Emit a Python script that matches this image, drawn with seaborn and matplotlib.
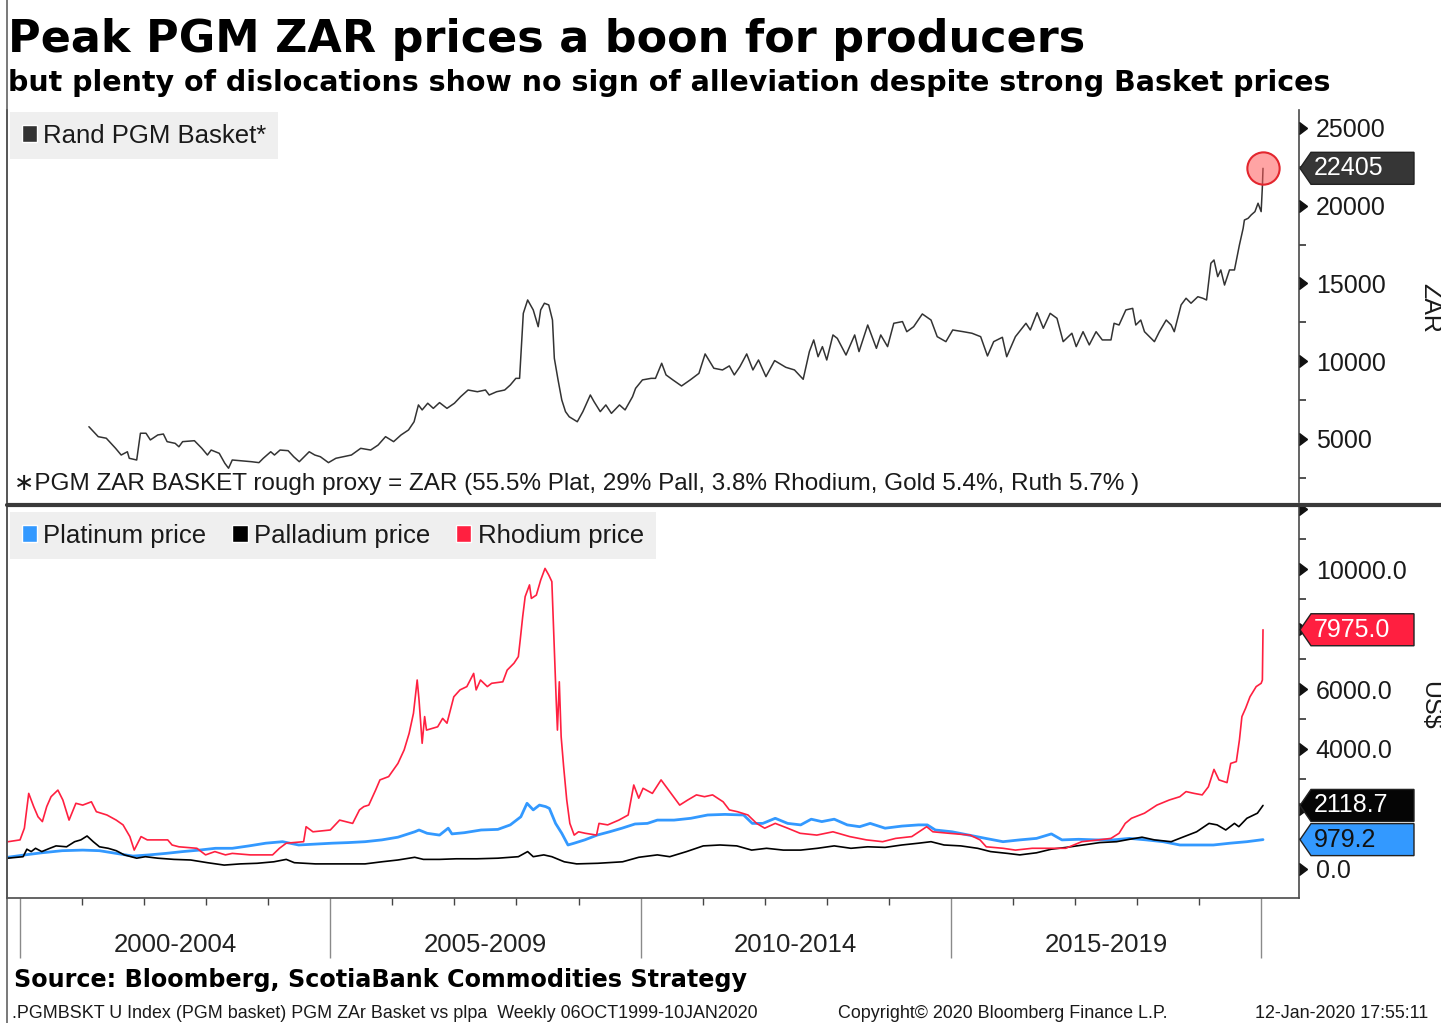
"""Rand PGM basket vs platinum / palladium / rhodium prices (Bloomberg style)."""

import pandas as pd
import matplotlib
matplotlib.use("Agg")
import matplotlib.pyplot as plt
import matplotlib.transforms as mtransforms
from matplotlib.lines import Line2D
from matplotlib.patches import Patch
from matplotlib.path import Path
import seaborn as sns

# ---- data (decimal years) ----
basket_year = [2001.11, 2001.26, 2001.39, 2001.54, 2001.63, 2001.73, 2001.76, 2001.88, 2001.94, 2002.03,
               2002.10, 2002.22, 2002.31, 2002.37, 2002.50, 2002.56, 2002.62, 2002.81, 2002.93, 2003.02,
               2003.08, 2003.21, 2003.30, 2003.36, 2003.42, 2003.73, 2003.85, 2003.92, 2004.04, 2004.10,
               2004.19, 2004.32, 2004.41, 2004.50, 2004.66, 2004.75, 2004.84, 2004.97, 2005.09, 2005.34,
               2005.49, 2005.65, 2005.77, 2005.89, 2006.02, 2006.14, 2006.26, 2006.35, 2006.42, 2006.48,
               2006.57, 2006.66, 2006.76, 2006.88, 2007.00, 2007.10, 2007.22, 2007.37, 2007.50, 2007.56,
               2007.68, 2007.81, 2007.90, 2007.99, 2008.05, 2008.11, 2008.18, 2008.27, 2008.35, 2008.39,
               2008.45, 2008.52, 2008.58, 2008.61, 2008.67, 2008.73, 2008.79, 2008.85, 2008.98, 2009.07,
               2009.19, 2009.25, 2009.35, 2009.44, 2009.53, 2009.66, 2009.75, 2009.87, 2009.92, 2010.03,
               2010.17, 2010.24, 2010.34, 2010.41, 2010.52, 2010.66, 2010.80, 2010.94, 2011.04, 2011.18,
               2011.32, 2011.43, 2011.51, 2011.60, 2011.71, 2011.81, 2011.90, 2012.02, 2012.16, 2012.34,
               2012.48, 2012.62, 2012.72, 2012.79, 2012.86, 2012.93, 2013.00, 2013.10, 2013.17, 2013.31,
               2013.45, 2013.52, 2013.66, 2013.80, 2013.87, 2013.98, 2014.08, 2014.22, 2014.29, 2014.40,
               2014.54, 2014.68, 2014.78, 2014.92, 2015.03, 2015.20, 2015.34, 2015.48, 2015.59, 2015.69,
               2015.83, 2015.90, 2016.04, 2016.21, 2016.28, 2016.39, 2016.49, 2016.60, 2016.71, 2016.81,
               2016.95, 2017.02, 2017.13, 2017.23, 2017.34, 2017.44, 2017.58, 2017.63, 2017.71, 2017.82,
               2017.93, 2017.98, 2018.06, 2018.12, 2018.28, 2018.36, 2018.47, 2018.55, 2018.60, 2018.71,
               2018.79, 2018.87, 2018.98, 2019.06, 2019.12, 2019.19, 2019.24, 2019.30, 2019.35, 2019.41,
               2019.49, 2019.57, 2019.65, 2019.71, 2019.73, 2019.79, 2019.84, 2019.90, 2019.95, 2020.00,
               2020.02, 2020.03]
basket_zar = [5790, 5150, 5050, 4400, 3970, 4180, 3760, 3650, 5370, 5370,
              4940, 5260, 5320, 4830, 4720, 4500, 4830, 4890, 4400, 3970,
              4290, 4080, 3440, 3120, 3650, 3540, 3480, 3760, 4180, 3970,
              4290, 4250, 3860, 3540, 4180, 3970, 3860, 3480, 3760, 3970,
              4400, 4290, 4610, 5150, 4830, 5260, 5580, 6110, 7190, 6870,
              7300, 6970, 7340, 6970, 7300, 7720, 8150, 8040, 8150, 7830,
              8040, 8150, 8470, 8900, 8900, 13080, 13940, 13300, 12220, 13300,
              13730, 13620, 12650, 10190, 8800, 7510, 6760, 6430, 6110, 6760,
              7830, 7400, 6760, 7190, 6650, 7190, 6870, 7720, 8260, 8800,
              8900, 8900, 9870, 9120, 8800, 8410, 8800, 9220, 10470, 9550,
              9440, 9700, 9120, 9650, 10470, 9440, 10080, 9010, 10040, 9610,
              9440, 8840, 10620, 11370, 10290, 10940, 10080, 11690, 11470, 10400,
              11690, 10620, 12330, 10830, 11690, 10940, 12440, 12550, 11900, 12220,
              13040, 12650, 11580, 11260, 12010, 11900, 11800, 11580, 10340, 11260,
              11540, 10290, 11580, 12440, 12010, 13120, 12120, 13080, 12760, 11260,
              11800, 10940, 11900, 11050, 11900, 11370, 11370, 12440, 12330, 13300,
              13400, 12330, 12650, 11900, 11260, 11900, 12650, 12330, 11900, 13620,
              14050, 13730, 14150, 14050, 13940, 16300, 16510, 15440, 15870, 14900,
              15870, 15870, 17480, 18550, 19080, 19190, 19410, 19620, 20160, 19620,
              21230, 22405]

pt_year = [1999.80, 2000.08, 2000.35, 2000.68, 2001.01, 2001.28, 2001.55, 2001.82, 2002.08, 2002.35,
           2002.62, 2002.89, 2003.15, 2003.42, 2003.69, 2003.96, 2004.23, 2004.49, 2004.76, 2005.03,
           2005.29, 2005.56, 2005.83, 2006.09, 2006.36, 2006.43, 2006.56, 2006.76, 2006.90, 2006.96,
           2007.16, 2007.43, 2007.70, 2007.90, 2008.07, 2008.17, 2008.27, 2008.37, 2008.47, 2008.53,
           2008.63, 2008.73, 2008.83, 2008.93, 2009.10, 2009.30, 2009.50, 2009.70, 2009.91, 2010.11,
           2010.27, 2010.54, 2010.81, 2011.08, 2011.36, 2011.66, 2011.80, 2011.97, 2012.17, 2012.37,
           2012.58, 2012.75, 2012.92, 2013.12, 2013.33, 2013.53, 2013.70, 2013.94, 2014.21, 2014.48,
           2014.62, 2014.75, 2015.02, 2015.29, 2015.56, 2015.84, 2016.11, 2016.38, 2016.62, 2016.79,
           2017.06, 2017.34, 2017.61, 2017.88, 2018.15, 2018.42, 2018.69, 2018.96, 2019.23, 2019.50,
           2019.77, 2020.03]
pt_usd = [390, 470, 540, 610, 630, 610, 520, 430, 470, 520,
          580, 630, 690, 690, 770, 860, 910, 800, 830, 860,
          880, 910, 970, 1060, 1240, 1300, 1190, 1130, 1360, 1170,
          1210, 1300, 1320, 1470, 1740, 2190, 1970, 2130, 2080, 2020,
          1520, 1190, 800, 860, 970, 1130, 1240, 1360, 1500, 1520,
          1630, 1630, 1690, 1800, 1820, 1800, 1520, 1520, 1690, 1520,
          1470, 1660, 1580, 1660, 1470, 1410, 1520, 1360, 1430, 1470,
          1470, 1300, 1240, 1130, 1020, 910, 970, 1020, 1170, 970,
          990, 970, 970, 1020, 970, 910, 800, 800, 800, 860,
          910, 979.2]

pd_year = [1999.80, 2000.05, 2000.11, 2000.18, 2000.25, 2000.35, 2000.48, 2000.58, 2000.75, 2000.88,
           2000.98, 2001.08, 2001.18, 2001.28, 2001.42, 2001.55, 2001.68, 2001.88, 2002.02, 2002.22,
           2002.48, 2002.75, 2003.02, 2003.29, 2003.55, 2003.82, 2004.09, 2004.29, 2004.42, 2004.76,
           2005.16, 2005.56, 2005.83, 2006.09, 2006.36, 2006.50, 2006.76, 2007.03, 2007.36, 2007.70,
           2008.03, 2008.18, 2008.27, 2008.44, 2008.57, 2008.77, 2008.97, 2009.31, 2009.71, 2009.97,
           2010.27, 2010.47, 2010.74, 2011.01, 2011.28, 2011.55, 2011.79, 2012.03, 2012.30, 2012.58,
           2012.85, 2013.12, 2013.39, 2013.66, 2013.94, 2014.21, 2014.48, 2014.68, 2014.89, 2015.16,
           2015.43, 2015.64, 2015.91, 2016.11, 2016.38, 2016.62, 2016.86, 2017.13, 2017.40, 2017.67,
           2017.88, 2018.08, 2018.28, 2018.55, 2018.76, 2018.96, 2019.16, 2019.29, 2019.43, 2019.57,
           2019.64, 2019.77, 2019.94, 2020.03]
pd_usd = [360, 410, 660, 580, 690, 580, 690, 770, 740, 910,
          970, 1100, 910, 740, 690, 610, 470, 360, 410, 360,
          320, 300, 210, 130, 170, 190, 240, 320, 210, 170,
          170, 170, 240, 300, 390, 320, 320, 340, 340, 360,
          410, 580, 410, 470, 410, 240, 170, 190, 240, 390,
          470, 410, 580, 770, 800, 770, 630, 690, 630, 630,
          690, 770, 690, 740, 720, 800, 860, 910, 800, 770,
          690, 580, 520, 470, 540, 660, 720, 800, 880, 910,
          990, 1060, 970, 910, 1080, 1240, 1520, 1470, 1300, 1520,
          1410, 1690, 1860, 2118.7]

rh_year = [1999.81, 2000.00, 2000.07, 2000.14, 2000.22, 2000.29, 2000.36, 2000.43, 2000.50, 2000.61,
           2000.69, 2000.79, 2000.90, 2001.01, 2001.15, 2001.23, 2001.40, 2001.55, 2001.66, 2001.77,
           2001.84, 2001.95, 2002.05, 2002.27, 2002.38, 2002.45, 2002.56, 2002.85, 2002.99, 2003.14,
           2003.31, 2003.42, 2003.71, 2004.07, 2004.18, 2004.29, 2004.57, 2004.61, 2004.72, 2005.00,
           2005.15, 2005.36, 2005.47, 2005.54, 2005.62, 2005.73, 2005.80, 2005.94, 2006.09, 2006.19,
           2006.27, 2006.34, 2006.40, 2006.43, 2006.48, 2006.52, 2006.55, 2006.73, 2006.81, 2006.88,
           2006.99, 2007.09, 2007.20, 2007.31, 2007.35, 2007.42, 2007.53, 2007.60, 2007.78, 2007.85,
           2007.96, 2008.03, 2008.06, 2008.10, 2008.14, 2008.21, 2008.24, 2008.32, 2008.39, 2008.46,
           2008.52, 2008.57, 2008.60, 2008.64, 2008.66, 2008.69, 2008.72, 2008.76, 2008.81, 2008.86,
           2008.93, 2009.00, 2009.11, 2009.29, 2009.33, 2009.47, 2009.65, 2009.80, 2009.89, 2009.97,
           2010.04, 2010.19, 2010.33, 2010.43, 2010.63, 2010.76, 2010.90, 2011.03, 2011.16, 2011.33,
           2011.43, 2011.56, 2011.73, 2011.87, 2012.00, 2012.17, 2012.37, 2012.57, 2012.84, 2013.10,
           2013.37, 2013.64, 2013.90, 2014.11, 2014.37, 2014.61, 2014.71, 2014.97, 2015.31, 2015.47,
           2015.57, 2015.84, 2016.04, 2016.31, 2016.58, 2016.85, 2017.11, 2017.38, 2017.58, 2017.71,
           2017.81, 2017.91, 2018.12, 2018.32, 2018.52, 2018.69, 2018.79, 2018.92, 2019.05, 2019.15,
           2019.24, 2019.32, 2019.45, 2019.51, 2019.60, 2019.65, 2019.69, 2019.75, 2019.82, 2019.92,
           2020.00, 2020.02, 2020.03]
rh_usd = [910, 970, 1360, 2520, 2080, 1740, 1580, 2080, 2410, 2630,
          2300, 1630, 2190, 2130, 2240, 1910, 1800, 1630, 1470, 1080,
          630, 1080, 970, 970, 970, 800, 740, 690, 470, 580,
          470, 520, 470, 470, 690, 860, 910, 1410, 1240, 1300,
          1630, 1520, 1970, 2080, 2130, 2630, 2970, 3080, 3520, 3970,
          4520, 5190, 6300, 5630, 4190, 5080, 4630, 4740, 5020, 4860,
          5740, 5970, 6080, 6520, 5970, 6300, 6080, 6190, 6240, 6630,
          6860, 7080, 7630, 8410, 9080, 9470, 9020, 9130, 9630, 10020,
          9800, 9580, 7860, 5630, 4630, 6240, 4410, 3410, 2300, 1520,
          1130, 1240, 1190, 1130, 1520, 1470, 1630, 1800, 2800, 2360,
          2690, 2520, 2970, 2690, 2130, 2300, 2470, 2410, 2470, 2240,
          1970, 1910, 1800, 1520, 1360, 1520, 1360, 1190, 1130, 1240,
          1080, 970, 910, 1020, 1080, 1410, 1240, 1190, 1130, 970,
          740, 690, 630, 690, 690, 690, 910, 970, 1020, 1190,
          1520, 1690, 1860, 2130, 2300, 2410, 2580, 2520, 2470, 2740,
          3320, 2970, 2880, 3520, 3580, 4300, 5080, 5360, 5740, 6080,
          6190, 6300, 7975]

zar_ticks = [5000, 10000, 15000, 20000, 25000]
zar_minor = [2500, 7500, 12500, 17500, 22500]
usd_ticks = [0, 2000, 4000, 6000, 8000, 10000, 12000]
usd_shown = [0, 4000, 6000, 10000]
usd_minor = [1000, 3000, 5000, 7000, 9000, 11000]
period_edges = [2000, 2005, 2010, 2015, 2020]
period_labels = ["2000-2004", "2005-2009", "2010-2014", "2015-2019"]
year_ticks = list(range(2000, 2021))

BASKET_C = "#333333"
PT_C = "#3399ff"
PD_C = "#000000"
RH_C = "#ff2040"

basket = pd.DataFrame({"year": basket_year, "value": basket_zar})
metals = pd.concat([
    pd.DataFrame({"year": pt_year, "value": pt_usd, "metal": "Platinum price"}),
    pd.DataFrame({"year": pd_year, "value": pd_usd, "metal": "Palladium price"}),
    pd.DataFrame({"year": rh_year, "value": rh_usd, "metal": "Rhodium price"}),
])

sns.set_style("white")
plt.rcParams["font.family"] = ["Liberation Sans", "DejaVu Sans"]
plt.rcParams["text.color"] = "#1a1a1a"

W, H = 1441, 1023
fig = plt.figure(figsize=(W / 100, H / 100), dpi=100)


def fx(px):
    return px / W


def fy(py):
    return 1 - py / H


ax1 = fig.add_axes([fx(7), fy(502), fx(1299) - fx(7), fy(110) - fy(502)])
ax2 = fig.add_axes([fx(7), fy(898), fx(1299) - fx(7), fy(507) - fy(898)], sharex=ax1)

sns.lineplot(data=basket, x="year", y="value", ax=ax1, color=BASKET_C, linewidth=1.1,
             estimator=None, sort=False, legend=False)
palette = {"Platinum price": PT_C, "Palladium price": PD_C, "Rhodium price": RH_C}
widths = {"Platinum price": 2.0, "Palladium price": 1.2, "Rhodium price": 1.2}
for name in ["Platinum price", "Palladium price", "Rhodium price"]:
    sub = metals[metals["metal"] == name]
    sns.lineplot(data=sub, x="year", y="value", ax=ax2, color=palette[name],
                 linewidth=widths[name], estimator=None, sort=False, legend=False)

# last-price circle on the basket
ax1.scatter([basket_year[-1]], [basket_zar[-1]], s=540, facecolor=(1, 0.35, 0.35, 0.55),
            edgecolor="#e3262e", linewidth=1.5, zorder=5)

ax1.set_xlim(1999.79, 2020.61)
ax1.set_ylim(949, 26155)
ax2.set_ylim(-967, 12067)

for ax in (ax1, ax2):
    ax.set_xlabel("")
    ax.set_ylabel("")
    ax.spines["top"].set_visible(False)
    for side in ("left", "right", "bottom"):
        ax.spines[side].set_color("#4a4a4a")
        ax.spines[side].set_linewidth(1.2)
    ax.yaxis.tick_right()
    ax.tick_params(axis="y", which="major", right=True, length=0, pad=12, labelsize=18,
                   labelcolor="#1a1a1a")
    ax.tick_params(axis="y", which="minor", right=True, length=5, width=1.2, color="#333333")
ax1.spines["bottom"].set_visible(False)

ax1.set_yticks(zar_ticks)
ax1.set_yticklabels([f"{v:d}" for v in zar_ticks])
ax1.set_yticks(zar_minor, minor=True)
ax2.set_yticks(usd_ticks)
ax2.set_yticklabels([f"{v:.1f}" if v in usd_shown else "" for v in usd_ticks])
ax2.set_yticks(usd_minor, minor=True)

# right-pointing triangles at major ticks
for ax, ticks in ((ax1, zar_ticks), (ax2, usd_ticks)):
    trans = mtransforms.blended_transform_factory(ax.transAxes, ax.transData)
    ax.plot([1] * len(ticks), ticks, linestyle="none", marker=9, markersize=8,
            color="#111111", transform=trans, clip_on=False, zorder=6)

# x axis: long period ticks, short yearly ticks, period labels in between
ax2.set_xticks(period_edges)
ax2.set_xticks(year_ticks, minor=True)
ax2.tick_params(axis="x", which="major", bottom=True, direction="out", length=43, width=1,
                color="#8a8a8a", labelbottom=False)
ax2.tick_params(axis="x", which="minor", bottom=True, direction="out", length=5, width=1,
                color="#444444")
ax1.tick_params(axis="x", which="both", bottom=False, labelbottom=False)
xtrans = mtransforms.blended_transform_factory(ax2.transData, ax2.transAxes)
for lo, hi, lab in zip(period_edges[:-1], period_edges[1:], period_labels):
    ax2.text((lo + hi) / 2, -0.12, lab, transform=xtrans, ha="center", va="center",
             fontsize=18.5, color="#222222")


# value tags on the right axis
def tag_box(x0, y0, width, height, mutation_size):
    yc = y0 + height / 2
    h = 16
    left = x0 - 3
    return Path([(left - 11, yc), (left, yc + h), (left + 103, yc + h),
                 (left + 103, yc - h), (left, yc - h), (left - 11, yc)], closed=True)


def value_tag(ax, value, label, fc, tc):
    ax.annotate(label, xy=(1, value), xycoords=("axes fraction", "data"),
                xytext=(15, 0), textcoords="offset pixels", ha="left", va="center",
                fontsize=18, color=tc, annotation_clip=False, zorder=10,
                bbox=dict(boxstyle=tag_box, fc=fc, ec="#222222", lw=1))


value_tag(ax1, basket_zar[-1], f"{basket_zar[-1]:d}", "#363636", "white")
value_tag(ax2, rh_usd[-1], f"{rh_usd[-1]:.1f}", "#ff1f40", "white")
value_tag(ax2, pd_usd[-1], f"{pd_usd[-1]:.1f}", "#050505", "white")
value_tag(ax2, pt_usd[-1], f"{pt_usd[-1]:.1f}", "#3399ff", "#111111")

# legends
leg_kw = dict(loc="upper left", borderaxespad=0, frameon=True, fancybox=False,
              facecolor="#efefef", edgecolor="none", framealpha=1, fontsize=18.5,
              handlelength=0.6, handleheight=0.6, handletextpad=0.25, borderpad=0.45,
              columnspacing=1.0)
ax1.legend(handles=[Patch(facecolor=BASKET_C, label="Rand PGM Basket*")],
           bbox_to_anchor=(0.0023, 0.995), **leg_kw)
ax2.legend(handles=[Patch(facecolor=palette[n], label=n) for n in palette],
           bbox_to_anchor=(0.0023, 0.987), ncol=3, **leg_kw)

# frame decorations
fig.add_artist(Line2D([fx(7), fx(7)], [0, 1], color="#555555", lw=1.1))
fig.add_artist(Line2D([fx(7), 1], [fy(504.5), fy(504.5)], color="#3a3a3a", lw=3))

# texts
fig.text(fx(8), fy(52), "Peak PGM ZAR prices a boon for producers", fontsize=32,
         fontweight="bold", family="DejaVu Sans", va="baseline", color="black")
fig.text(fx(8), fy(91), "but plenty of dislocations show no sign of alleviation despite strong Basket prices",
         fontsize=20.5, fontweight="bold", family="DejaVu Sans", va="baseline", color="black")
fig.text(fx(14), fy(484), "\u2217PGM ZAR BASKET rough proxy = ZAR (55.5% Plat, 29% Pall, 3.8% Rhodium, "
         "Gold 5.4%, Ruth 5.7% )", fontsize=17.5, va="center")
fig.text(fx(1430), fy(308), "ZAR", rotation=-90, ha="center", va="center", fontsize=18)
fig.text(fx(1430), fy(705), "US$", rotation=-90, ha="center", va="center", fontsize=18)
fig.text(fx(14), fy(987), "Source: Bloomberg, ScotiaBank Commodities Strategy", fontsize=17.2,
         fontweight="bold", family="DejaVu Sans", va="baseline", color="black")
fig.text(fx(12), fy(1018), ".PGMBSKT U Index (PGM basket) PGM ZAr Basket vs plpa  Weekly 06OCT1999-10JAN2020",
         fontsize=12.9, va="baseline")
fig.text(fx(838), fy(1018), "Copyright\u00a9 2020 Bloomberg Finance L.P.", fontsize=12.9,
         va="baseline")
fig.text(fx(1255), fy(1018), "12-Jan-2020 17:55:11", fontsize=12.9, va="baseline")

fig.savefig("out.png", dpi=100, facecolor="white")
